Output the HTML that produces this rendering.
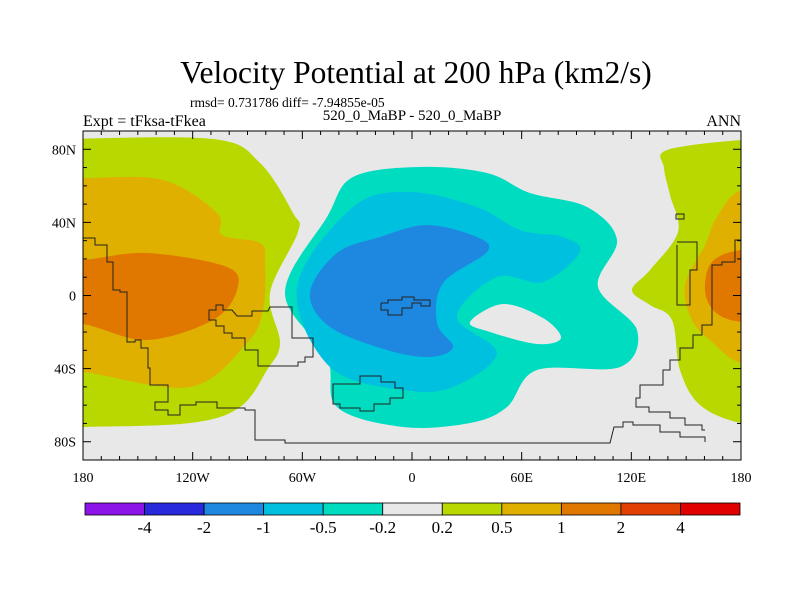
<!DOCTYPE html>
<html><head><meta charset="utf-8"><style>
body{margin:0;background:#fff;}
svg{display:block;font-family:"Liberation Serif",serif;}
</style></head><body>
<svg id="s" width="800" height="600" viewBox="0 0 800 600">
<text x="416" y="83" font-size="31.5" text-anchor="middle">Velocity Potential at 200 hPa (km2/s)</text>
<text x="190" y="107" font-size="13.5">rmsd= 0.731786 diff= -7.94855e-05</text>
<text x="83" y="126" font-size="16">Expt = tFksa-tFkea</text>
<text x="412" y="120" font-size="15" text-anchor="middle">520_0_MaBP - 520_0_MaBP</text>
<text x="741" y="126" font-size="16" text-anchor="end">ANN</text>
<defs><clipPath id="pc"><rect x="83" y="131" width="658" height="329"/></clipPath></defs>
<rect x="83" y="131" width="658" height="329" fill="#e8e8e8"/>
<g id="fills" clip-path="url(#pc)"></g>
<g id="coast" clip-path="url(#pc)" fill="none" stroke="#222" stroke-width="1"></g>
<g id="axes"></g>
<g id="cbar"></g>
</svg>
<script>
const levels=["-4","-2","-1","-0.5","-0.2","0.2","0.5","1","2","4"];
const colors=["#8c14e8","#2828dc","#1e88e0","#00c0e0","#00dcc0","#e8e8e8","#b8d800","#e0b000","#e07800","#e04000","#e00000"];
const lonTicks=[-180,-120,-60,0,60,120,180];
const lonLabels=["180","120W","60W","0","60E","120E","180"];
const latTicks=[80,40,0,-40,-80];
const latLabels=["80N","40N","0","40S","80S"];
const X0=83,X1=741,Y0=131,Y1=460;
const xs=l=>X0+(l+180)/360*(X1-X0);
const ys=l=>Y0+(90-l)/180*(Y1-Y0);
const NS="http://www.w3.org/2000/svg";
function mk(t,a,p){const e=document.createElementNS(NS,t);for(const k in a)e.setAttribute(k,a[k]);p.appendChild(e);return e;}
function smooth(pts){let d="M"+pts[0].join(",");const n=pts.length;
for(let i=0;i<n;i++){const p0=pts[(i-1+n)%n],p1=pts[i],p2=pts[(i+1)%n],p3=pts[(i+2)%n];
d+=" C"+(p1[0]+(p2[0]-p0[0])/6)+","+(p1[1]+(p2[1]-p0[1])/6)+" "+(p2[0]-(p3[0]-p1[0])/6)+","+(p2[1]-(p3[1]-p1[1])/6)+" "+p2[0]+","+p2[1];}
return d+"Z";}
const F=document.getElementById('fills');
const shapes=[
["left-positive-0.2",6,[[60,139],[213,139],[260,163],[293,213],[298,232],[270,293],[280,343],[267,370],[240,407],[190,423],[83,427],[40,427],[40,139]]],
["left-positive-0.5",7,[[40,178],[83,178],[163,180],[217,213],[222,235],[260,243],[265,263],[263,310],[247,343],[190,387],[83,372],[40,372]]],
["left-positive-1",8,[[40,260],[83,260],[147,253],[227,267],[237,290],[213,320],[147,340],[83,324],[40,324]]],
["right-positive-0.2",6,[[667,150],[741,140],[790,140],[790,423],[741,423],[700,405],[680,370],[672,320],[650,305],[632,290],[650,270],[678,232],[670,195],[664,168]]],
["right-positive-0.5",7,[[741,190],[717,217],[705,245],[685,285],[692,320],[712,342],[741,363],[790,363],[790,190]]],
["right-positive-1",8,[[741,250],[712,262],[705,290],[715,312],[741,322],[790,322],[790,250]]],
["center-negative-0.2",4,[[285,293],[327,217],[353,177],[420,167],[487,173],[530,193],[587,207],[617,240],[598,287],[637,330],[620,367],[537,370],[507,407],[470,423],[403,427],[337,407],[327,357]]],
["center-hole",5,[[470,322],[503,304],[543,318],[561,338],[537,344],[490,332]]],
["center-negative-0.5",3,[[297,287],[353,207],[410,192],[477,207],[520,230],[563,237],[580,252],[543,282],[497,277],[457,317],[497,353],[453,387],[403,390],[330,367]]],
["center-negative-1",2,[[310,293],[337,253],[380,237],[427,225],[477,237],[487,252],[443,283],[437,323],[453,347],[430,357],[387,350],[330,327]]]
];
shapes.forEach(s=>{const p=mk('path',{d:smooth(s[2]),fill:colors[s[1]]},F);

});
const C=document.getElementById('coast');
const coasts=[
[[83,238],[95,238],[95,245],[107,245],[107,262],[113,262],[113,290],[120,290],[120,292],[127,292],[127,342],[135,342],[135,340],[141,340],[141,348],[148,348],[148,368],[150,368],[150,385],[168,385],[168,402],[155,402],[155,410],[168,410],[168,415],[180,415],[180,405],[196,405],[196,402],[217,402],[217,408],[245,408],[245,410],[255,410],[255,440],[285,440],[285,443],[610,443],[614,427],[623,427],[623,422],[633,422],[633,425],[660,425],[660,432],[680,432],[680,437],[705,437],[705,442]],
[[209,315],[209,320],[216,320],[216,326],[224,326],[224,333],[232,333],[232,338],[245,338],[245,350],[258,350],[258,366],[298,366],[298,362],[305,362],[305,357],[313,357],[313,338],[292,338],[292,307],[270,307],[268,311],[252,311],[252,316],[237,316],[232,310],[223,310],[223,305],[216,305],[216,310],[209,310],[209,315]],
[[381,303],[381,310],[388,310],[388,315],[402,315],[402,308],[412,308],[412,303],[421,303],[421,306],[430,306],[430,300],[414,300],[414,297],[402,297],[402,300],[388,300],[388,303],[381,303]],
[[333,393],[333,404],[340,404],[340,408],[360,408],[360,411],[374,411],[374,404],[390,404],[390,398],[403,398],[403,388],[395,388],[395,382],[381,382],[381,376],[360,376],[360,384],[333,384],[333,393]],
[[677,245],[677,305],[690,305],[690,270],[697,270],[697,242],[677,242]],
[[741,240],[735,240],[735,262],[722,262],[722,265],[712,265],[712,325],[702,325],[702,335],[693,335],[693,348],[680,348],[680,360],[670,360],[670,370],[663,370],[663,385],[640,385],[640,398],[636,398],[636,407],[649,407],[649,412],[670,412],[670,418],[685,418],[685,425],[702,425],[702,430],[705,430]],
[[676,214],[684,214],[684,219],[676,219],[676,214]]
];
coasts.forEach((c,i)=>{const p=mk('polyline',{points:c.map(q=>q.join(",")).join(" ")},C);

});
const A=document.getElementById('axes');
const fr=mk('rect',{x:X0,y:Y0,width:X1-X0,height:Y1-Y0,fill:"none",stroke:"#000","stroke-width":1},A);

for(let l=-180;l<=180;l+=10){const x=xs(l),len=(l%60===0)?8:4;
mk('line',{x1:x,x2:x,y1:Y0,y2:Y0+len,stroke:"#000"},A);mk('line',{x1:x,x2:x,y1:Y1,y2:Y1-len,stroke:"#000"},A);}
for(let l=-90;l<=90;l+=10){const y=ys(l),len=(l%40===0)?8:4;
mk('line',{x1:X0,x2:X0+len,y1:y,y2:y,stroke:"#000"},A);mk('line',{x1:X1,x2:X1-len,y1:y,y2:y,stroke:"#000"},A);}
lonTicks.forEach((l,i)=>{const t=mk('text',{x:xs(l),y:482,"font-size":14,"text-anchor":"middle"},A);t.textContent=lonLabels[i];
});
latTicks.forEach((l,i)=>{const t=mk('text',{x:76,y:ys(l)+5,"font-size":14,"text-anchor":"end"},A);t.textContent=latLabels[i];
});
const B=document.getElementById('cbar');const bx=85,bw=655/colors.length;
colors.forEach((c,i)=>{const r=mk('rect',{x:bx+i*bw,y:503,width:bw,height:12,fill:c,stroke:"#000","stroke-width":0.8},B);
});
levels.forEach((v,i)=>{const t=mk('text',{x:bx+(i+1)*bw,y:533,"font-size":17,"text-anchor":"middle"},B);t.textContent=v;
});
</script>
</body></html>
